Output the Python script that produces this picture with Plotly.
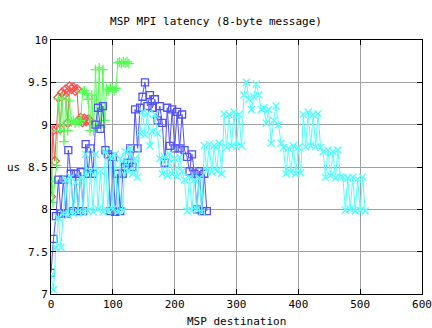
import plotly.graph_objects as go

red_x = [0, 3, 6, 9, 12, 15, 18, 21, 24, 27, 30, 33, 36, 39, 42, 45, 48, 51, 54, 57, 60, 63]
red_y = [8.15, 8.93, 8.57, 8.95, 9.32, 8.95, 9.38, 9.35, 9.42, 9.02, 9.45, 9.42, 9.44, 9.40, 9.42,
         9.05, 9.08, 9.03, 9.07, 9.04, 9.06, 9.05]

green_x = [0, 3, 6, 9, 12, 15, 18, 21, 24, 27, 30, 33, 36, 39, 42, 45, 48, 51, 54, 57, 60, 63,
           66, 69, 72, 75, 78, 81, 84, 87, 90, 93, 96, 99, 102, 105, 108, 111, 114, 117, 120, 123, 126]
green_y = [8.92, 8.08, 8.33, 8.52, 9.30, 8.93, 9.32, 8.80, 9.30, 8.93, 9.28, 9.03, 9.05, 9.02, 9.04,
           9.03, 9.05, 9.38, 9.40, 9.37, 9.30, 8.93, 9.35, 8.93, 9.65, 9.00, 9.67, 8.97, 9.65, 9.05,
           9.42, 9.40, 9.44, 9.42, 9.40, 9.43, 9.73, 9.74, 9.72, 9.74, 9.73, 9.74, 9.72]

blue_x = list(range(0, 256, 4))
blue_y = [7.25, 7.65, 7.92, 8.35, 7.95, 8.35, 7.95, 8.70, 8.42, 7.98, 8.42, 7.98, 8.44, 7.98,
          8.77, 8.42, 8.72, 8.42, 9.00, 9.20, 8.95, 9.22, 8.70, 8.65, 7.98, 8.62, 7.97, 8.42,
          7.98, 8.42, 8.50, 8.55, 8.72, 8.50, 9.18, 8.72, 9.20, 9.33, 9.50, 9.22, 9.35, 9.20,
          9.30, 9.05, 9.22, 9.02, 8.55, 9.20, 8.75, 9.18, 8.72, 9.15, 8.72, 9.12, 8.70, 8.62,
          8.45, 8.65, 8.42, 8.00, 8.45, 7.98, 8.42, 7.98]

cyan_x = list(range(0, 512, 4))
cyan_y = [7.22, 7.05, 7.55, 7.90, 7.55, 7.95, 8.35, 7.93, 8.38, 7.95, 8.32, 7.97, 8.38, 7.96,
          8.65, 7.98, 8.45, 7.97, 8.65, 8.00, 8.45, 7.97, 8.68, 7.98, 8.62, 8.00, 8.65, 7.97,
          8.60, 7.98, 8.68, 8.45, 8.72, 8.42, 8.60, 8.38, 8.90, 9.15, 8.88, 9.13, 8.75, 8.92,
          9.12, 8.90, 8.60, 8.42, 8.62, 8.40, 8.65, 8.42, 8.60, 8.38, 8.62, 8.45, 8.35, 7.98,
          8.38, 7.99, 8.35, 8.00, 8.37, 7.97, 8.75, 8.45, 8.77, 8.44, 8.75, 8.45, 8.78, 8.42,
          9.13, 8.73, 9.12, 8.75, 9.15, 8.74, 9.12, 8.75, 9.35, 9.50, 9.30, 9.18, 9.33, 9.48,
          9.35, 9.18, 9.20, 9.02, 9.18, 8.78, 9.05, 9.22, 9.00, 8.78, 8.73, 8.42, 8.72, 8.44,
          8.75, 8.42, 8.73, 8.43, 9.12, 8.74, 9.15, 8.75, 9.12, 8.74, 9.13, 8.73, 8.68, 8.38,
          8.70, 8.40, 8.68, 8.37, 8.70, 8.38, 8.38, 7.99, 8.37, 8.00, 8.38, 7.98, 8.36, 7.99,
          8.38, 7.98]

x_ticks = [0, 100, 200, 300, 400, 500, 600]
y_ticks = [7, 7.5, 8, 8.5, 9, 9.5, 10]
y_tick_text = ["7", "7.5", "8", "8.5", "9", "9.5", "10"]

FONT = "DejaVu Sans Mono"

series = [
    (red_x, red_y, "#ff5050", "diamond-open"),
    (green_x, green_y, "#50ff50", "cross-thin-open"),
    (blue_x, blue_y, "#5050ff", "square-open"),
    (cyan_x, cyan_y, "#50ffff", "x-thin-open"),
]

fig = go.Figure()
for xs, ys, col, sym in series:
    fig.add_trace(go.Scatter(
        x=xs, y=ys, mode="lines+markers",
        line=dict(color=col, width=1),
        marker=dict(symbol=sym, size=7, color=col, line=dict(color=col, width=1.3)),
        showlegend=False,
    ))

axis_common = dict(
    showline=True, linecolor="black", linewidth=1, mirror="ticks",
    ticks="inside", ticklen=5, tickcolor="black", tickwidth=1,
    showgrid=True, gridcolor="#a0a0a0", gridwidth=1, zeroline=False,
    automargin=False,
    tickfont=dict(family=FONT, size=11, color="black"),
)

fig.update_layout(
    width=432, height=328,
    margin=dict(l=51, r=10, t=40, b=34),
    paper_bgcolor="white", plot_bgcolor="white",
    title=dict(text="MSP MPI latency (8-byte message)", x=0.5, xanchor="center",
               y=1 - 21 / 328, yanchor="middle",
               font=dict(family=FONT, size=11, color="black")),
    xaxis=dict(range=[0, 600], tickvals=x_ticks, **axis_common),
    yaxis=dict(range=[7, 10], tickvals=y_ticks, ticktext=y_tick_text, **axis_common),
    annotations=[
        dict(text="MSP destination", xref="paper", yref="paper", x=0.5, y=0,
             xanchor="center", yanchor="middle", yshift=-27, showarrow=False,
             font=dict(family=FONT, size=11, color="black")),
        dict(text="us", xref="paper", yref="paper", x=0, y=0.5,
             xanchor="center", yanchor="middle", xshift=-38, showarrow=False,
             font=dict(family=FONT, size=11, color="black")),
    ],
)

fig.write_html("out.html")
